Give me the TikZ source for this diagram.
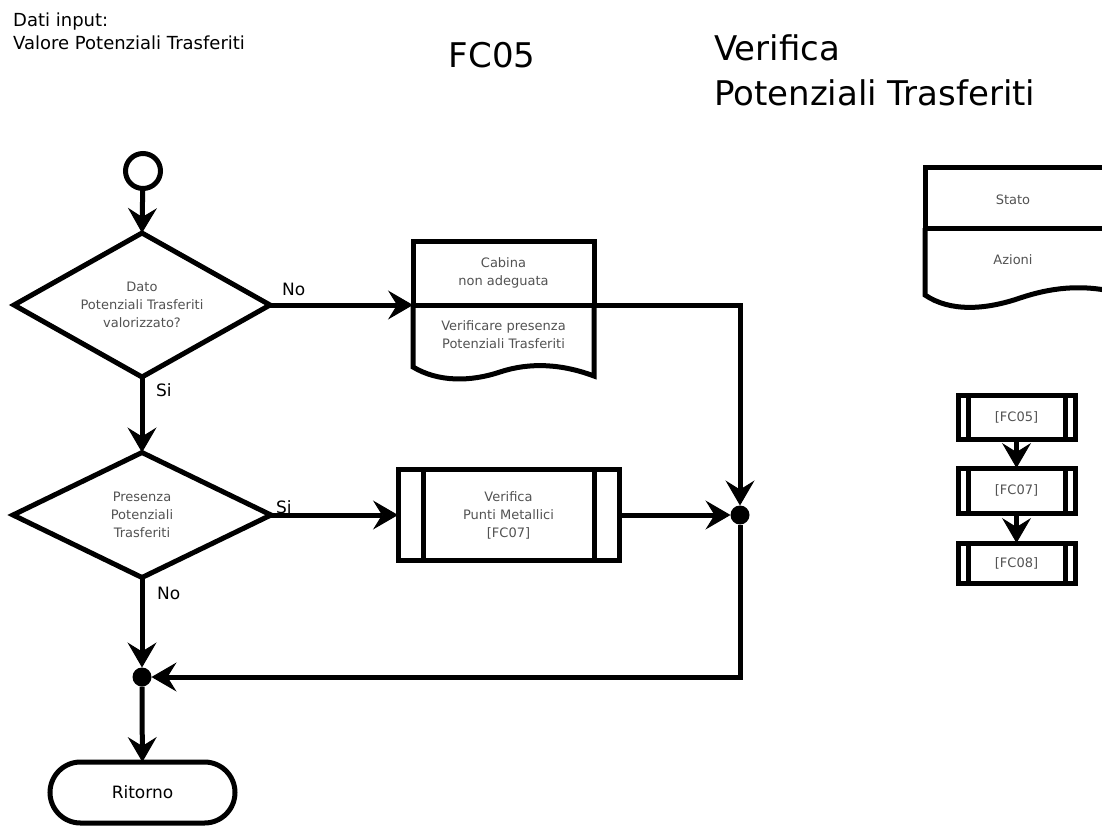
\documentclass[tikz,border=0pt]{standalone}
\usepackage{fontspec}
\setmainfont{DejaVu Sans}
\usetikzlibrary{shapes.geometric,shapes.misc,arrows.meta}

\tikzset{
  ln/.style={line width=5pt, line join=miter, outer sep=0pt},
  arr/.style={ln, -{Stealth[length=25pt,width=29pt,inset=9pt,line width=1pt]}},
  small/.style={font=\fontsize{13}{18}\selectfont, text=black!68, align=center, inner sep=0pt},
  lbl/.style={font=\fontsize{17}{20}\selectfont, inner sep=0pt, anchor=base west},
  head/.style={inner sep=0pt, anchor=base west},
  decision/.style={ln, draw, diamond, aspect=1.8, inner sep=0pt, minimum width=#1, small},
  statebox/.style={ln, draw, rectangle, inner sep=0pt},
  subproc/.style={ln, draw, rectangle, inner sep=0pt, small,
    path picture={
      \draw[line width=5pt] ([xshift=#1]path picture bounding box.north west) -- ([xshift=#1]path picture bounding box.south west);
      \draw[line width=5pt] ([xshift=-#1]path picture bounding box.north east) -- ([xshift=-#1]path picture bounding box.south east);
    }},
  junction/.style={circle, fill=black, inner sep=0pt, outer sep=0pt, minimum size=19pt},
}

\begin{document}
\begin{tikzpicture}[x=1pt,y=-1pt]
\useasboundingbox (0,0) rectangle (1102,825);
\clip (0,0) rectangle (1102,825);

% headings
\node[head, font=\fontsize{18}{23}\selectfont] (input1) at (13,26) {Dati input:};
\node[head, font=\fontsize{18}{23}\selectfont] (input2) at (13,49) {Valore Potenziali Trasferiti};
\node[inner sep=0pt, anchor=base, font=\fontsize{34}{40}\selectfont] (code) at (492,67) {FC05};
\node[head, font=\fontsize{34}{40}\selectfont] (title1) at (714,60) {Verifica};
\node[head, font=\fontsize{34}{40}\selectfont] (title2) at (714,105) {Potenziali Trasferiti};

% main flow
\node[ln, draw, circle, minimum size=35pt, inner sep=0pt] (start) at (143,171) {};
\node[decision=256pt, minimum height=144pt] (d1) at (142,305)
  {Dato\\Potenziali Trasferiti\\valorizzato?};
\node[decision=258pt, minimum height=125pt] (d2) at (142,515)
  {Presenza\\Potenziali\\Trasferiti};

% document box: state on top, actions below with a wavy bottom
\node[statebox, minimum width=181pt, minimum height=64pt, small] (cab) at (503.5,273)
  {Cabina\\non adeguata};
\draw[ln] (cab.south west) -- (413,367)
  .. controls (438,382) and (470,382) .. (500,372)
  .. controls (530,362) and (562,364) .. (594,376) -- (cab.south east);
\node[small] (cabact) at (503.5,334.5) {Verificare presenza\\Potenziali Trasferiti};

\node[subproc=25pt, minimum width=221pt, minimum height=91pt] (vpm) at (508.5,515)
  {Verifica\\Punti Metallici\\{[FC07]}};

\node[junction] (j1) at (740,515) {};
\node[junction] (j2) at (142,677) {};

\node[ln, draw, rounded rectangle, minimum width=185pt, minimum height=61pt, inner sep=0pt,
      font=\fontsize{17}{20}\selectfont] (ret) at (142.5,792.5) {Ritorno};

% connectors
\draw[arr] (start) -- (d1.north);
\draw[arr] (d1.east) -- (cab.south west);
\draw[arr] (d1.south) -- (d2.north);
\draw[arr] (d2.east) -- (vpm.west);
\draw[arr] (vpm.east) -- (j1);
\draw[arr] (cab.south east) -| (j1);
\draw[arr] (j1) |- (j2);
\draw[arr] (d2.south) -- (j2);
\draw[arr] (j2) -- (ret);

\node[lbl] (no1) at (282,295) {No};
\node[lbl] (si1) at (156,396) {Si};
\node[lbl] (si2) at (276,513) {Si};
\node[lbl] (no2) at (157,599) {No};

% legend: state / actions box
\node[statebox, minimum width=190pt, minimum height=61pt] (stato) at (1020,197.5) {};
\draw[ln] (stato.south west) -- (925,295)
  .. controls (950,312) and (985,310) .. (1020,298)
  .. controls (1050,288) and (1080,284) .. (1115,292) -- (stato.south east);
\node[small] (statot) at (1013,200) {Stato};
\node[small] (azioni) at (1013,260) {Azioni};

% legend: chain of sub-processes
\node[subproc=10pt, minimum width=117pt, minimum height=44pt] (f5) at (1016.5,417) {[FC05]};
\node[subproc=10pt, minimum width=117pt, minimum height=45pt] (f7) at (1016.5,490.5) {[FC07]};
\node[subproc=10pt, minimum width=117pt, minimum height=40pt] (f8) at (1016.5,563) {[FC08]};
\draw[arr] (f5) -- (f7);
\draw[arr] (f7) -- (f8);
\end{tikzpicture}
\end{document}
